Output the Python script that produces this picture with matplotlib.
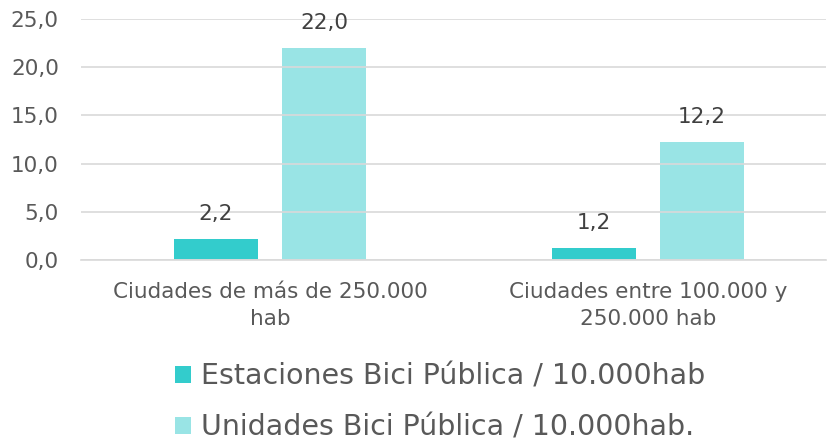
import matplotlib
matplotlib.use("Agg")
import matplotlib.pyplot as plt
from matplotlib.patches import Patch
import numpy as np

categories = ["Ciudades de más de 250.000\nhab", "Ciudades entre 100.000 y\n250.000 hab"]
series_names = ["Estaciones Bici Pública / 10.000hab", "Unidades Bici Pública / 10.000hab."]
estaciones = [2.2, 1.2]
unidades = [22.0, 12.2]
y_ticks = [0, 5, 10, 15, 20, 25]

colors = ["#33CCCC", "#99E4E5"]
text_color = "#595959"
plt.rcParams["font.family"] = ["DejaVu Sans"]

W, H = 828, 442
fig = plt.figure(figsize=(W / 100, H / 100), dpi=100)
ax = fig.add_axes([81 / W, 1 - 260 / H, (826 - 81) / W, (260 - 19) / H])

x = np.arange(len(categories))
width = 0.222
offset = 0.143
for vals, off, col in [(estaciones, -offset, colors[0]), (unidades, offset, colors[1])]:
    bars = ax.bar(x + off, vals, width, color=col, zorder=1)
    for b, v in zip(bars, vals):
        ax.text(b.get_x() + b.get_width() / 2, v + 2.6, f"{v:.1f}".replace(".", ","),
                ha="center", va="center", fontsize=15.5, color="#404040")

ax.set_ylim(0, 25)
ax.set_xlim(-0.5, (826 - 81) / 378 - 0.5)
ax.set_yticks(y_ticks)
ax.set_yticklabels([f"{t:.1f}".replace(".", ",") for t in y_ticks], fontsize=15.5, color=text_color)
ax.set_xticks(x)
ax.set_xticklabels(categories, fontsize=15.5, color=text_color, linespacing=1.4)
ax.tick_params(axis="both", length=0)
ax.tick_params(axis="y", pad=16)
ax.tick_params(axis="x", pad=16)
ax.yaxis.grid(True, color="#D9D9D9", linewidth=1.2, zorder=2)
ax.set_axisbelow(False)
for s in ["top", "right", "left"]:
    ax.spines[s].set_visible(False)
ax.spines["bottom"].set_color("#D9D9D9")
ax.spines["bottom"].set_linewidth(1.2)

handles = [Patch(facecolor=c) for c in colors]
fig.legend(handles, series_names, loc="center", bbox_to_anchor=(440 / W, 1 - 402 / H),
           ncol=1, frameon=False, fontsize=20.5, labelcolor=text_color,
           handlelength=0.55, handleheight=0.55, handletextpad=0.35, labelspacing=0.8,
           borderpad=0)

fig.savefig("out.png", dpi=100)
